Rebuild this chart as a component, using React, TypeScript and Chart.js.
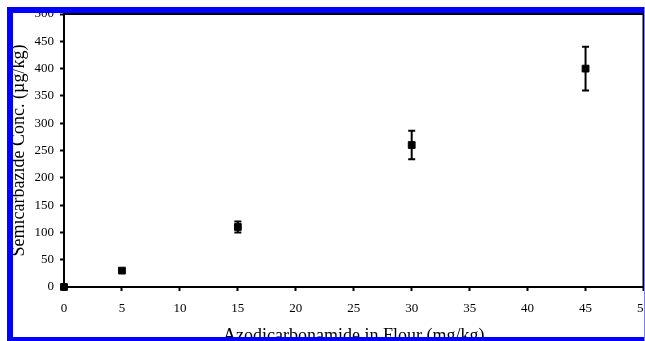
import React, { useEffect, useRef } from "react";
import { Chart, registerables } from "chart.js";

Chart.register(...registerables);

const xValues = [0, 5, 15, 30, 45];
const yValues = [0, 30, 110, 260, 400];
const yErrors = [0, 0, 10, 26, 40];

const xTitle = "Azodicarbonamide in Flour (mg/kg)";
const yTitle = "Semicarbazide Conc. (\u00b5g/kg)";

const FONT = "'Liberation Serif', 'Times New Roman', serif";

const errorBarPlugin = {
  id: "errorBars",
  beforeDatasetsDraw(chart: any) {
    const { ctx, scales } = chart;
    const xs = scales.x;
    const ys = scales.y;
    ctx.save();
    ctx.strokeStyle = "#000";
    ctx.lineWidth = 2;
    xValues.forEach((xv, i) => {
      const e = yErrors[i];
      if (!e) return;
      const px = xs.getPixelForValue(xv);
      const top = ys.getPixelForValue(yValues[i] + e);
      const bot = ys.getPixelForValue(yValues[i] - e);
      ctx.beginPath();
      ctx.moveTo(px, top);
      ctx.lineTo(px, bot);
      ctx.moveTo(px - 3.5, top);
      ctx.lineTo(px + 3.5, top);
      ctx.moveTo(px - 3.5, bot);
      ctx.lineTo(px + 3.5, bot);
      ctx.stroke();
    });
    ctx.restore();
  },
};

const framePlugin = {
  id: "frame",
  afterDraw(chart: any) {
    const { ctx, chartArea } = chart;
    ctx.save();
    ctx.strokeStyle = "#000";
    ctx.lineWidth = 2;
    ctx.beginPath();
    ctx.moveTo(chartArea.left, chartArea.top);
    ctx.lineTo(chartArea.right, chartArea.top);
    ctx.lineTo(chartArea.right, chartArea.bottom);
    ctx.stroke();
    ctx.restore();
  },
};

export default function App() {
  const ref = useRef<HTMLCanvasElement>(null);

  useEffect(() => {
    if (!ref.current) return;
    const chart = new Chart(ref.current, {
      type: "scatter",
      data: {
        datasets: [
          {
            data: xValues.map((x, i) => ({ x, y: yValues[i] })),
            pointStyle: "rect",
            pointRadius: 4.8,
            backgroundColor: "#000",
            borderColor: "#000",
            borderWidth: 1,
            clip: false as any,
          },
        ],
      },
      options: {
        animation: false,
        responsive: true,
        maintainAspectRatio: false,
        layout: { autoPadding: false, padding: { top: 14, right: 2, left: 0, bottom: 0 } },
        plugins: { legend: { display: false }, tooltip: { enabled: false } },
        scales: {
          x: {
            type: "linear",
            min: 0,
            max: 50,
            ticks: { stepSize: 5, color: "#000", font: { family: FONT, size: 13 }, padding: 10, maxRotation: 0 },
            grid: { display: true, drawOnChartArea: false, drawTicks: true, tickLength: 4, tickWidth: 2, color: "#000" },
            border: { display: true, color: "#000", width: 2 },
            title: { display: true, text: xTitle, color: "#000", font: { family: FONT, size: 18 }, padding: { top: 0, bottom: 3 } },
            afterFit: (s: any) => { s.height = 63; },
          },
          y: {
            type: "linear",
            min: 0,
            max: 500,
            ticks: { stepSize: 50, color: "#000", font: { family: FONT, size: 13 }, padding: 6 },
            grid: { display: true, drawOnChartArea: false, drawTicks: true, tickLength: 4, tickWidth: 2, color: "#000" },
            border: { display: true, color: "#000", width: 2 },
            title: { display: true, text: yTitle, color: "#000", font: { family: FONT, size: 18 }, padding: { top: 8, bottom: 0 } },
            afterFit: (s: any) => { s.width = 64; },
          },
        },
      },
      plugins: [errorBarPlugin, framePlugin],
    });
    return () => chart.destroy();
  }, []);

  return (
    <div style={{ position: "fixed", left: 0, top: 0, width: 645, height: 341, overflow: "hidden", background: "#fff" }}>
      <div style={{ position: "absolute", left: 0, top: 0, width: 660, height: 350 }}>
        <canvas ref={ref} />
      </div>
      <div style={{ position: "absolute", left: 7, top: 7, width: 638, height: 6, background: "#0000ff" }} />
      <div style={{ position: "absolute", left: 7, top: 7, width: 6, height: 334, background: "#0000ff" }} />
      <div style={{ position: "absolute", left: 7, top: 337, width: 638, height: 4, background: "#0000ff" }} />
      <div style={{ position: "absolute", left: 644, top: 7, width: 1, height: 334, background: "#8080ff" }} />
    </div>
  );
}
